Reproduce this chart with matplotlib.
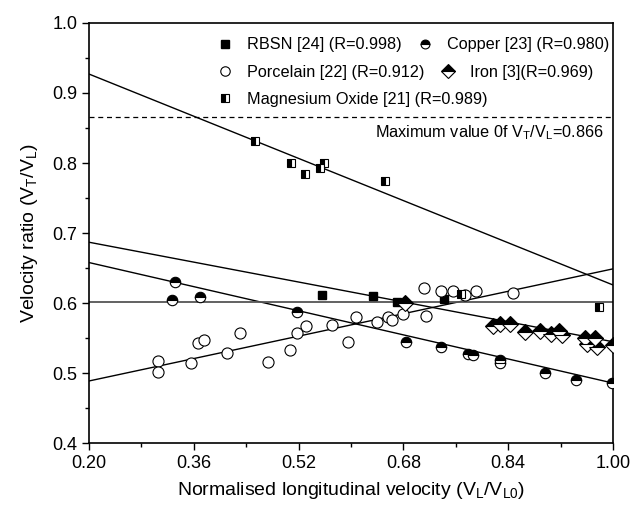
import numpy as np
import matplotlib
matplotlib.use('Agg')
import matplotlib.pyplot as plt
from matplotlib.legend import Legend

plt.rcParams['font.family'] = ['Liberation Sans', 'DejaVu Sans']
plt.rcParams['mathtext.fontset'] = 'custom'
plt.rcParams['mathtext.rm'] = 'Liberation Sans'

# - Data -
rbsn_x = [0.555, 0.634, 0.670, 0.742]
rbsn_y = [0.612, 0.610, 0.602, 0.606]

copper_x = [0.326, 0.331, 0.370, 0.518, 0.684, 0.737, 0.779, 0.786, 0.828, 0.828, 0.896, 0.944, 0.999]
copper_y = [0.604, 0.630, 0.609, 0.587, 0.545, 0.538, 0.528, 0.526, 0.519, 0.514, 0.501, 0.491, 0.486]

porc_x = [0.306, 0.306, 0.355, 0.367, 0.376, 0.410, 0.430, 0.474, 0.507, 0.518, 0.532,
          0.571, 0.596, 0.608, 0.639, 0.657, 0.662, 0.679, 0.711, 0.715, 0.738, 0.756,
          0.774, 0.791, 0.848]
porc_y = [0.518, 0.502, 0.514, 0.543, 0.548, 0.529, 0.558, 0.516, 0.533, 0.557, 0.568,
          0.569, 0.545, 0.580, 0.573, 0.581, 0.576, 0.584, 0.622, 0.582, 0.617, 0.618,
          0.612, 0.617, 0.615]

iron_x = [0.682, 0.817, 0.828, 0.842, 0.866, 0.889, 0.906, 0.918, 0.922, 0.957, 0.960, 0.972, 0.975, 1.000]
iron_y = [0.600, 0.568, 0.571, 0.571, 0.559, 0.561, 0.556, 0.560, 0.554, 0.550, 0.542, 0.550, 0.537, 0.541]

mgo_x = [0.453, 0.509, 0.529, 0.553, 0.559, 0.652, 0.768, 0.979]
mgo_y = [0.832, 0.800, 0.784, 0.793, 0.800, 0.775, 0.613, 0.594]

# fitted lines: (value at x=0.2, value at x=1.0)
fit_lines = [(0.687, 0.545), (0.658, 0.486), (0.489, 0.649), (0.927, 0.626)]
flat_line = 0.602
max_ratio = 0.866

# - Figure -
fig = plt.figure(figsize=(6.3, 5.09), dpi=100)
ax = fig.add_axes([0.1413, 0.129, 0.8317, 0.826])

fx = np.array([0.2, 1.0])
for y0, y1 in fit_lines:
    ax.plot(fx, [y0, y1], color='black', lw=1.0, zorder=2)
ax.axhline(flat_line, color='#555555', lw=1.3, zorder=2)
ax.axhline(max_ratio, color='black', lw=0.9, ls=(0, (4, 3)), zorder=2)

h1, = ax.plot(rbsn_x, rbsn_y, 's', ms=6, mfc='black', mec='black', ls='none', zorder=3)
h2, = ax.plot(copper_x, copper_y, 'o', ms=7.5, fillstyle='top', mfc='black', mfcalt='white',
              mec='black', mew=0.8, ls='none', zorder=3)
h3, = ax.plot(porc_x, porc_y, 'o', ms=8, mfc='white', mec='black', mew=0.8, ls='none', zorder=3)
h4, = ax.plot(iron_x, iron_y, 'D', ms=8, fillstyle='top', mfc='black', mfcalt='white',
              mec='black', mew=0.8, ls='none', zorder=3)
h5, = ax.plot(mgo_x, mgo_y, 's', ms=6, fillstyle='left', mfc='black', mfcalt='white',
              mec='black', mew=0.8, ls='none', zorder=3)

# - Legend: each row laid out on its own, like the original -
rows = [([h1, h2], ['RBSN [24] (R=0.998)', 'Copper [23] (R=0.980)'], 0.948),
        ([h3, h4], ['Porcelain [22] (R=0.912)', 'Iron [3](R=0.969)'], 0.883),
        ([h5], ['Magnesium Oxide [21] (R=0.989)'], 0.818)]
for handles, labels, ypos in rows:
    leg = Legend(ax, handles, labels, ncol=len(handles), frameon=False, loc='center left',
                 bbox_to_anchor=(0.241, ypos), borderaxespad=0, borderpad=0,
                 fontsize=11.7, handletextpad=0.75, columnspacing=0.85, handlelength=1.2,
                 markerscale=0.85)
    ax.add_artist(leg)

ax.text(0.985, 0.843, r'Maximum value 0f V$_{\rm T}$/V$_{\rm L}$=0.866', ha='right', va='center',
        fontsize=11.7)

ax.set_xlim(0.2, 1.0)
ax.set_ylim(0.4, 1.0)
ax.set_xticks(np.arange(0.20, 1.001, 0.16))
ax.set_xticks(np.arange(0.28, 1.0, 0.16), minor=True)
ax.set_xticklabels(['0.20', '0.36', '0.52', '0.68', '0.84', '1.00'])
ax.set_yticks(np.arange(0.4, 1.001, 0.1))
ax.set_yticks(np.arange(0.45, 1.0, 0.1), minor=True)
ax.set_yticklabels(['0.4', '0.5', '0.6', '0.7', '0.8', '0.9', '1.0'])
ax.tick_params(which='major', direction='out', length=5, width=1, labelsize=13)
ax.tick_params(which='minor', direction='out', length=3, width=1)
for s in ax.spines.values():
    s.set_linewidth(1.2)

ax.set_xlabel(r'Normalised longitudinal velocity (V$_{\rm L}$/V$_{\rm L0}$)', fontsize=14, labelpad=6)
ax.set_ylabel(r'Velocity ratio (V$_{\rm T}$/V$_{\rm L}$)', fontsize=14, labelpad=9)

fig.savefig('out.png', dpi=100)
